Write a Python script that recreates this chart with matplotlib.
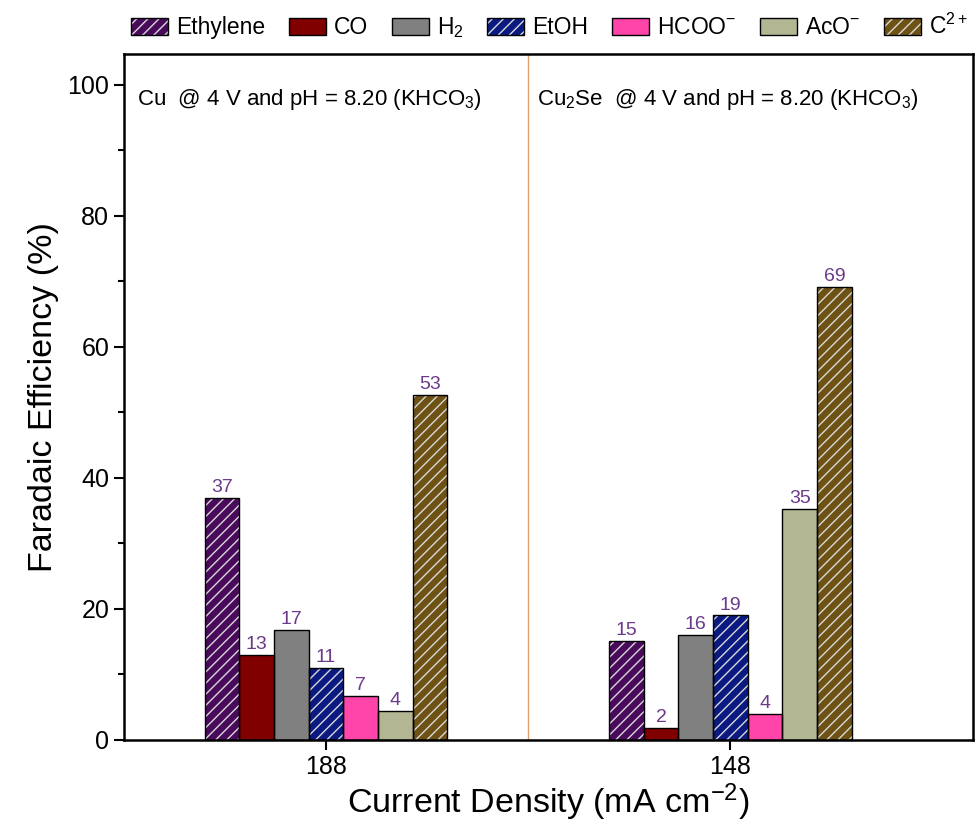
import numpy as np
import matplotlib
matplotlib.use('Agg')
import matplotlib.pyplot as plt
from matplotlib.patches import Patch
from matplotlib.ticker import MultipleLocator

plt.rcParams['font.family'] = ['Liberation Sans', 'DejaVu Sans']
plt.rcParams['mathtext.fontset'] = 'custom'
plt.rcParams['mathtext.rm'] = 'Liberation Sans'
plt.rcParams['mathtext.it'] = 'Liberation Sans:italic'
plt.rcParams['mathtext.default'] = 'regular'
plt.rcParams['hatch.color'] = '#d8d8d8'
plt.rcParams['hatch.linewidth'] = 1.0

# data
current_density = ['188', '148']
products = ['Ethylene', 'CO', 'H$_2$', 'EtOH', 'HCOO$^{-}$', 'AcO$^{-}$', 'C$^{2+}$']
cu_fe = [36.9, 13.0, 16.8, 11.0, 6.7, 4.4, 52.6]
cu2se_fe = [15.1, 1.9, 16.0, 19.0, 4.0, 35.2, 69.2]
colors = ['#4a0a5c', '#800000', '#808080', '#0a1a80', '#ff44aa', '#b2b692', '#6e5214']
hatches = ['///', None, None, '///', None, None, '///']

fig = plt.figure(figsize=(9.76, 8.32), dpi=100)
ax = fig.add_axes([0.127, 0.1106, 0.870, 0.8245])

x = np.arange(len(current_density))
w = 0.6 / len(products)
values = np.array([cu_fe, cu2se_fe])
handles = []
for i, name in enumerate(products):
    pos = x + (i - 3) * w
    vals = values[:, i]
    ax.bar(pos, vals, w, color=colors[i], hatch=hatches[i], linewidth=0, zorder=2)
    ax.bar(pos, vals, w, facecolor='none', edgecolor='black', linewidth=1.0, zorder=3)
    for p, v in zip(pos, vals):
        ax.text(p, v + 0.3, f'{v:.0f}', ha='center', va='bottom',
                fontsize=14, color='#6b3a8a')
    handles.append((Patch(facecolor=colors[i], hatch=hatches[i], linewidth=0),
                    Patch(facecolor='none', edgecolor='black', linewidth=1.0)))

ax.axvline(0.5, color='#e0a070', linewidth=1.0, zorder=1)

ax.set_xlim(-0.5, 1.6)
ax.set_ylim(0, 104.7)
ax.set_xticks(x)
ax.set_xticklabels(current_density)
ax.yaxis.set_major_locator(MultipleLocator(20))
ax.yaxis.set_minor_locator(MultipleLocator(10))
ax.tick_params(axis='both', direction='out', labelsize=18, width=1.5, length=7)
ax.tick_params(axis='y', which='minor', direction='out', width=1.5, length=4)
for s in ax.spines.values():
    s.set_linewidth(1.8)

ax.set_ylabel('Faradaic Efficiency (%)', fontsize=24.5, labelpad=6)
ax.set_xlabel('Current Density (mA cm$^{-2}$)', fontsize=24.5, labelpad=2)

ax.text(0.015, 0.933, 'Cu  @ 4 V and pH = 8.20 (KHCO$_3$)', transform=ax.transAxes,
        fontsize=16, va='center', ha='left')
ax.text(0.487, 0.933, 'Cu$_2$Se  @ 4 V and pH = 8.20 (KHCO$_3$)', transform=ax.transAxes,
        fontsize=16, va='center', ha='left')

fig.legend(handles, products, loc='upper center', bbox_to_anchor=(0.563, 1.005), ncol=7,
           frameon=False, fontsize=16.5, handlelength=1.6, handleheight=0.8,
           handletextpad=0.35, columnspacing=1.05, borderpad=0.3)

fig.savefig('out.png', dpi=100)
